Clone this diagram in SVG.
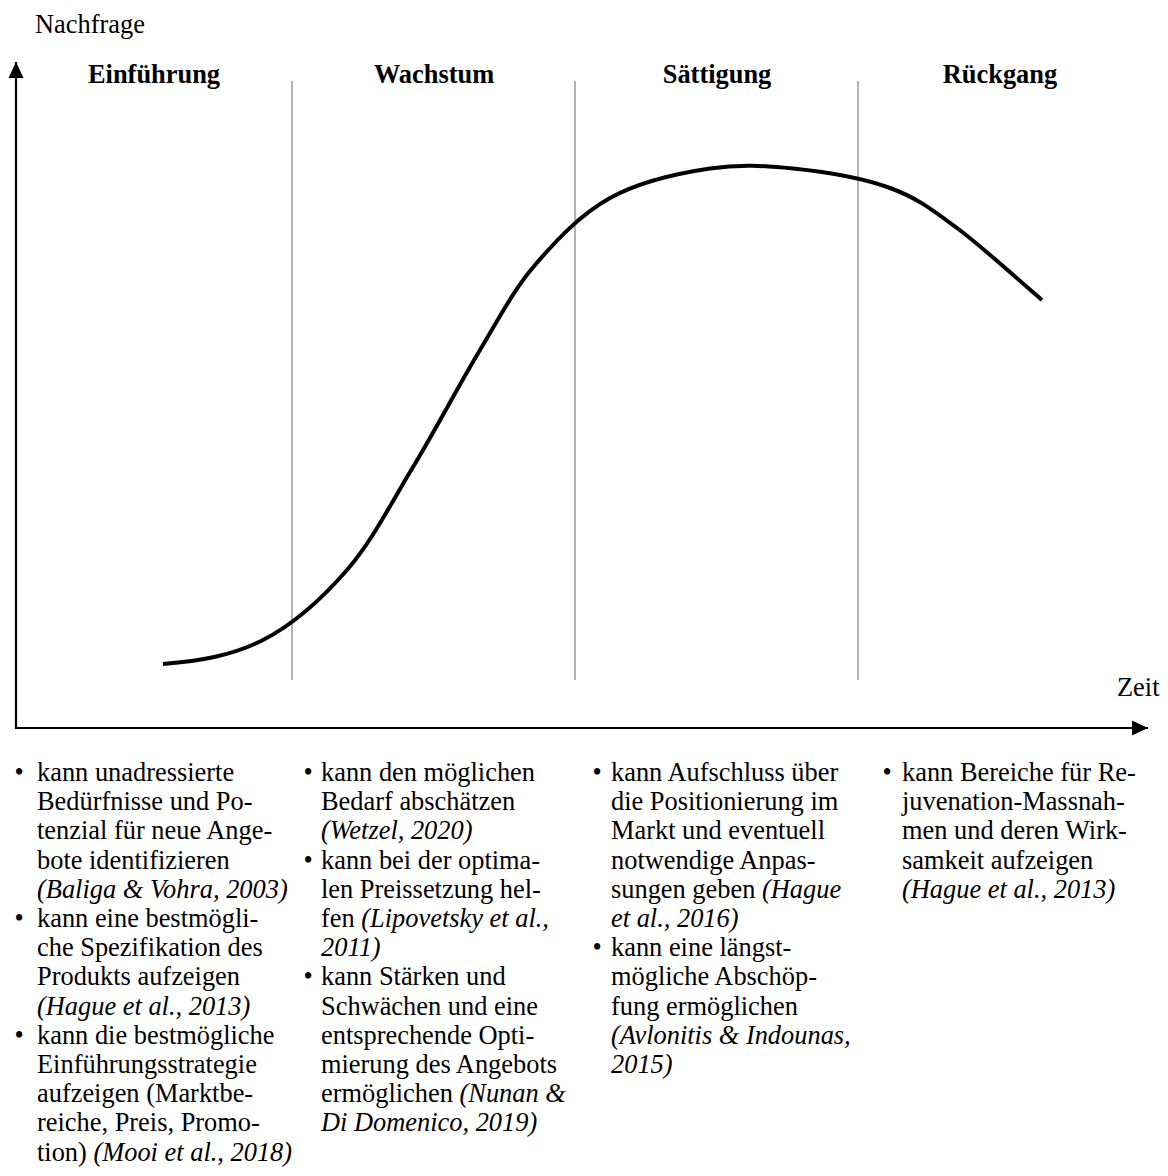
<svg xmlns="http://www.w3.org/2000/svg" width="1168" height="1176" viewBox="0 0 1168 1176">
<style>
text{font-family:"Liberation Serif","Times New Roman",serif;font-size:26.4px;fill:#000}
.h{font-weight:bold;text-anchor:middle}
.i{font-style:italic}
.b{text-anchor:middle}
.axis{stroke:#000;stroke-width:2.2;fill:none}
.div{stroke:#8a8a8a;stroke-width:1.3}
.curve{stroke:#000;stroke-width:4;fill:none;stroke-linecap:butt}
</style>
<defs>
<marker id="arr" viewBox="0 0 16 16" refX="16" refY="8" markerWidth="16" markerHeight="16" markerUnits="userSpaceOnUse" orient="auto">
<path d="M0,0.5 L16,8 L0,15.5 Z" fill="#000"/>
</marker>
</defs>
<rect width="1168" height="1176" fill="#fff"/>
<g id="connectors">
<line class="axis" x1="16" y1="729" x2="16" y2="62" marker-end="url(#arr)"/>
<line class="axis" x1="15" y1="728" x2="1148" y2="728" marker-end="url(#arr)"/>
<line class="div" x1="292" y1="81" x2="292" y2="680"/>
<line class="div" x1="575" y1="81" x2="575" y2="680"/>
<line class="div" x1="858" y1="81" x2="858" y2="680"/>
<path class="curve" d="M163,664 C200,661 232.3,655.7 263,640 C293.7,624.3 322,598.8 347,570 C372,541.2 390.8,503.7 413,467 C435.2,430.3 459.7,383.7 480,350 C500.3,316.3 513.3,290.3 535,265 C556.7,239.7 580.8,214.2 610,198 C639.2,181.8 679.5,173 710,168.5 C740.5,164 763,165.5 793,168.5 C823,171.5 862.7,178 890,188 C917.3,198 931.7,209.3 957,228 C982.3,246.7 1013.7,276 1042,300"/>
</g>
<g id="axis-labels">
<text x="35" y="33">Nachfrage</text>
<text x="1117" y="696">Zeit</text>
</g>
<g id="headers">
<text class="h" x="154" y="83">Einführung</text>
<text class="h" x="434" y="83">Wachstum</text>
<text class="h" x="717" y="83">Sättigung</text>
<text class="h" x="1000" y="83">Rückgang</text>
</g>
<g id="col-einfuehrung">
<text class="b" x="19" y="781">•</text>
<text class="b" x="19" y="927">•</text>
<text class="b" x="19" y="1043.8">•</text>
<text x="37" y="781">kann unadressierte</text>
<text x="37" y="810.2">Bedürfnisse und Po-</text>
<text x="37" y="839.4">tenzial für neue Ange-</text>
<text x="37" y="868.6">bote identifizieren</text>
<text x="37" y="897.8" class="i">(Baliga &amp; Vohra, 2003)</text>
<text x="37" y="927">kann eine bestmögli-</text>
<text x="37" y="956.2">che Spezifikation des</text>
<text x="37" y="985.4">Produkts aufzeigen</text>
<text x="37" y="1014.6" class="i">(Hague et al., 2013)</text>
<text x="37" y="1043.8">kann die bestmögliche</text>
<text x="37" y="1073">Einführungsstrategie</text>
<text x="37" y="1102.2">aufzeigen (Marktbe-</text>
<text x="37" y="1131.4">reiche, Preis, Promo-</text>
<text x="37" y="1160.6">tion) <tspan class="i">(Mooi et al., 2018)</tspan></text>
</g>
<g id="col-wachstum">
<text class="b" x="308" y="781">•</text>
<text class="b" x="308" y="868.6">•</text>
<text class="b" x="308" y="985.4">•</text>
<text x="321" y="781">kann den möglichen</text>
<text x="321" y="810.2">Bedarf abschätzen</text>
<text x="321" y="839.4" class="i">(Wetzel, 2020)</text>
<text x="321" y="868.6">kann bei der optima-</text>
<text x="321" y="897.8">len Preissetzung hel-</text>
<text x="321" y="927">fen <tspan class="i">(Lipovetsky et al.,</tspan></text>
<text x="321" y="956.2" class="i">2011)</text>
<text x="321" y="985.4">kann Stärken und</text>
<text x="321" y="1014.6">Schwächen und eine</text>
<text x="321" y="1043.8">entsprechende Opti-</text>
<text x="321" y="1073">mierung des Angebots</text>
<text x="321" y="1102.2">ermöglichen <tspan class="i">(Nunan &amp;</tspan></text>
<text x="321" y="1131.4" class="i">Di Domenico, 2019)</text>
</g>
<g id="col-saettigung">
<text class="b" x="597" y="781">•</text>
<text class="b" x="597" y="956.2">•</text>
<text x="611" y="781">kann Aufschluss über</text>
<text x="611" y="810.2">die Positionierung im</text>
<text x="611" y="839.4">Markt und eventuell</text>
<text x="611" y="868.6">notwendige Anpas-</text>
<text x="611" y="897.8">sungen geben <tspan class="i">(Hague</tspan></text>
<text x="611" y="927" class="i">et al., 2016)</text>
<text x="611" y="956.2">kann eine längst-</text>
<text x="611" y="985.4">mögliche Abschöp-</text>
<text x="611" y="1014.6">fung ermöglichen</text>
<text x="611" y="1043.8" class="i">(Avlonitis &amp; Indounas,</text>
<text x="611" y="1073" class="i">2015)</text>
</g>
<g id="col-rueckgang">
<text class="b" x="887" y="781">•</text>
<text x="902" y="781">kann Bereiche für Re-</text>
<text x="902" y="810.2">juvenation-Massnah-</text>
<text x="902" y="839.4">men und deren Wirk-</text>
<text x="902" y="868.6">samkeit aufzeigen</text>
<text x="902" y="897.8" class="i">(Hague et al., 2013)</text>
</g>
</svg>
